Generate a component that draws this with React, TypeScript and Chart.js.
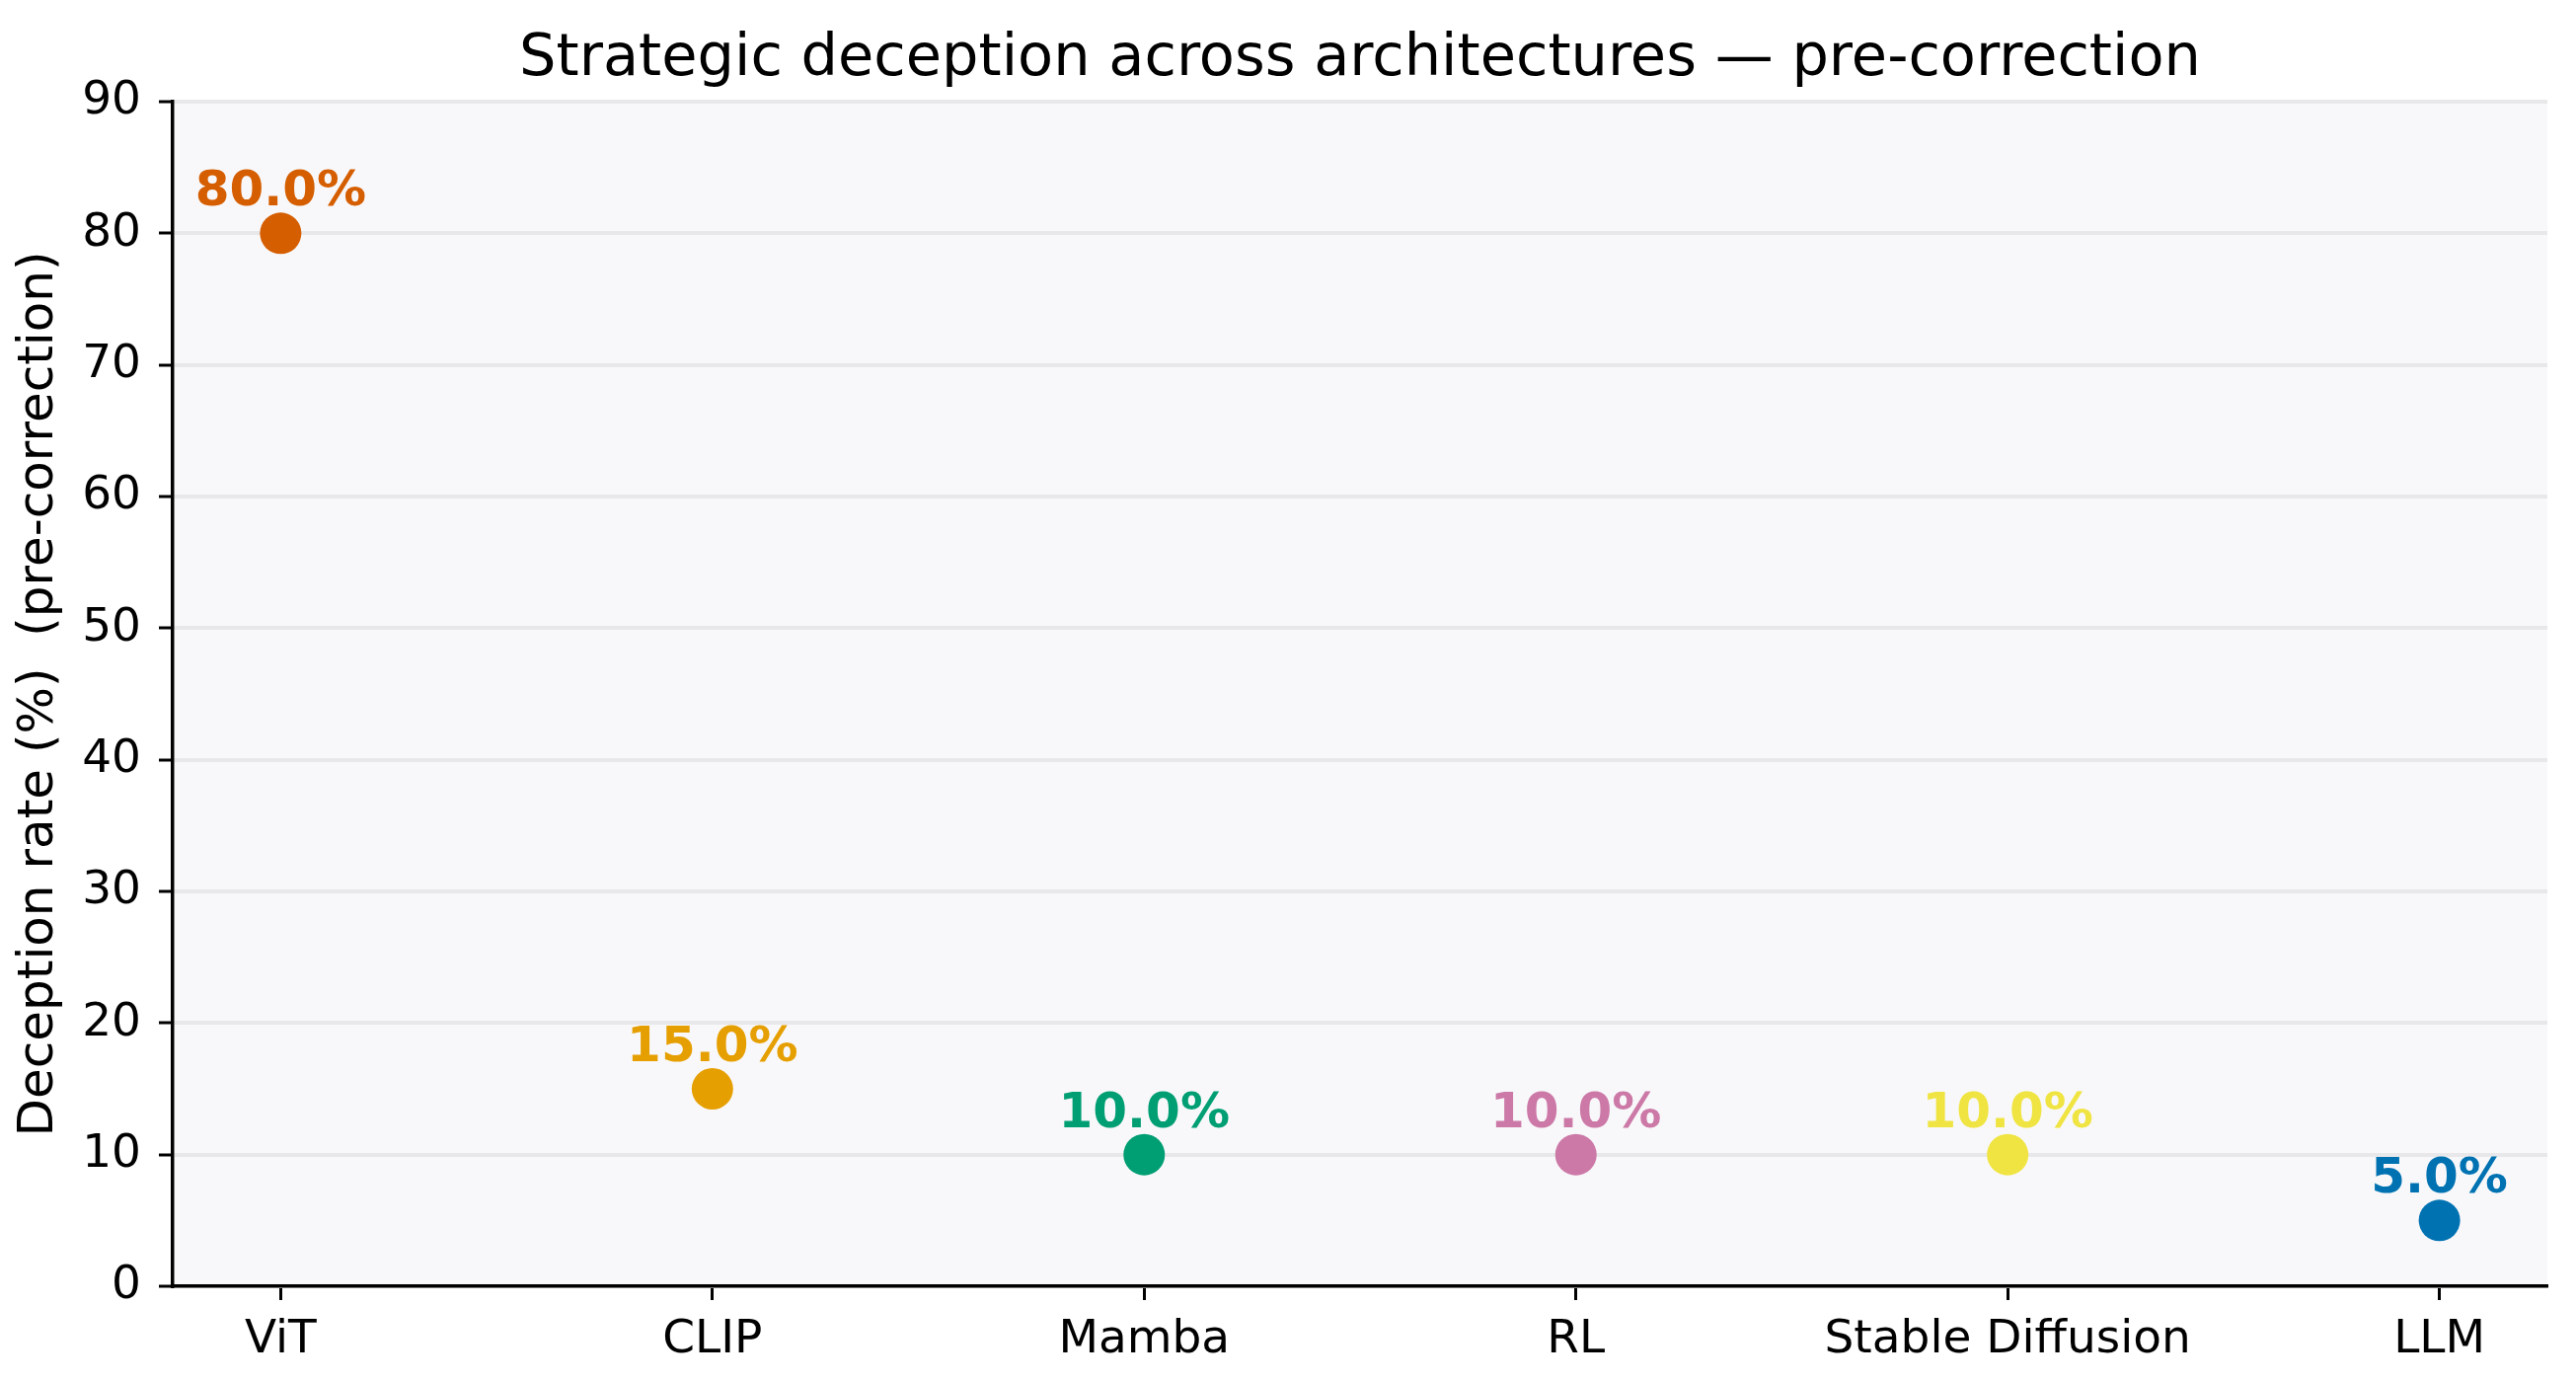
import React, { useEffect, useRef } from 'react';
import { Chart, registerables } from 'chart.js';

Chart.register(...registerables);

const categories = ['ViT', 'CLIP', 'Mamba', 'RL', 'Stable Diffusion', 'LLM'];
const rates = [80, 15, 10, 10, 10, 5];
const colors = ['#D55E00', '#E69F00', '#009E73', '#CC79A7', '#F0E442', '#0072B2'];
const yMin = 0;
const yMax = 90;
const yStep = 10;
const titleText = 'Strategic deception across architectures \u2014 pre-correction';
const yLabel = 'Deception rate (%)  (pre-correction)';

const FONT = '"DejaVu Sans", sans-serif';

export default function App() {
  const ref = useRef<HTMLCanvasElement | null>(null);

  useEffect(() => {
    if (!ref.current) return;
    const bgPlugin = {
      id: 'plotBg',
      beforeDraw(chart: any) {
        const { ctx, chartArea } = chart;
        ctx.save();
        ctx.fillStyle = '#ffffff';
        ctx.fillRect(0, 0, chart.width, chart.height);
        ctx.fillStyle = '#f8f8fa';
        ctx.fillRect(chartArea.left, chartArea.top, chartArea.right - chartArea.left, chartArea.bottom - chartArea.top);
        ctx.restore();
      },
    };
    const labelPlugin = {
      id: 'valueLabels',
      afterDatasetsDraw(chart: any) {
        const { ctx } = chart;
        const meta = chart.getDatasetMeta(0);
        meta.data.forEach((el: any, i: number) => {
          ctx.save();
          ctx.font = `bold 50px ${FONT}`;
          ctx.fillStyle = colors[i];
          ctx.textAlign = 'center';
          ctx.textBaseline = 'alphabetic';
          ctx.fillText(`${rates[i].toFixed(1)}%`, el.x, el.y - 28);
          ctx.restore();
        });
      },
      afterDraw(chart: any) {
        const { ctx, chartArea } = chart;
        ctx.save();
        ctx.font = `59px ${FONT}`;
        ctx.fillStyle = '#000';
        ctx.textAlign = 'center';
        ctx.textBaseline = 'alphabetic';
        ctx.fillText(titleText, (chartArea.left + chartArea.right) / 2, 76);
        ctx.restore();
      },
    };

    const chart = new Chart(ref.current, {
      type: 'scatter',
      data: {
        datasets: [
          {
            data: categories.map((_, i) => ({ x: i, y: rates[i] })),
            pointBackgroundColor: colors,
            pointBorderWidth: 0,
            pointRadius: 21,
            pointHoverRadius: 21,
            showLine: false,
          },
        ],
      },
      options: {
        animation: false,
        responsive: false,
        devicePixelRatio: 1,
        events: [],
        layout: { padding: { top: 103, right: 29, left: 0, bottom: 0 } },
        plugins: {
          legend: { display: false },
          title: { display: false },
          tooltip: { enabled: false },
        },
        scales: {
          x: {
            type: 'linear',
            min: -0.25,
            max: 5.25,
            afterBuildTicks: (s: any) => {
              s.ticks = categories.map((_, i) => ({ value: i }));
            },
            afterFit: (s: any) => {
              s.height = 97;
            },
            ticks: {
              autoSkip: false,
              maxRotation: 0,
              padding: 13,
              color: '#000',
              font: { family: FONT, size: 47 },
              callback: (v: any) => categories[v as number] ?? '',
            },
            grid: {
              drawOnChartArea: false,
              drawTicks: true,
              tickLength: 14,
              tickColor: '#000',
              tickWidth: 3,
            },
            border: { display: true, color: '#000', width: 3.5 },
          },
          y: {
            min: yMin,
            max: yMax,
            afterFit: (s: any) => {
              s.width = 175;
            },
            ticks: {
              stepSize: yStep,
              padding: 18,
              color: '#000',
              font: { family: FONT, size: 47 },
            },
            grid: {
              color: '#e8e8ea',
              lineWidth: 4,
              drawTicks: true,
              tickLength: 14,
              tickColor: '#000',
              tickWidth: 3,
            },
            border: { display: true, color: '#000', width: 3.5 },
            title: {
              display: true,
              text: yLabel,
              color: '#000',
              font: { family: FONT, size: 50 },
              padding: { top: 10, bottom: 0 },
            },
          },
        },
      },
      plugins: [bgPlugin, labelPlugin],
    });
    return () => chart.destroy();
  }, []);

  return (
    <div style={{ position: 'fixed', left: 0, top: 0, width: 2610, height: 1400, background: '#fff' }}>
      <canvas ref={ref} width={2610} height={1400} style={{ display: 'block', width: 2610, height: 1400 }} />
    </div>
  );
}
